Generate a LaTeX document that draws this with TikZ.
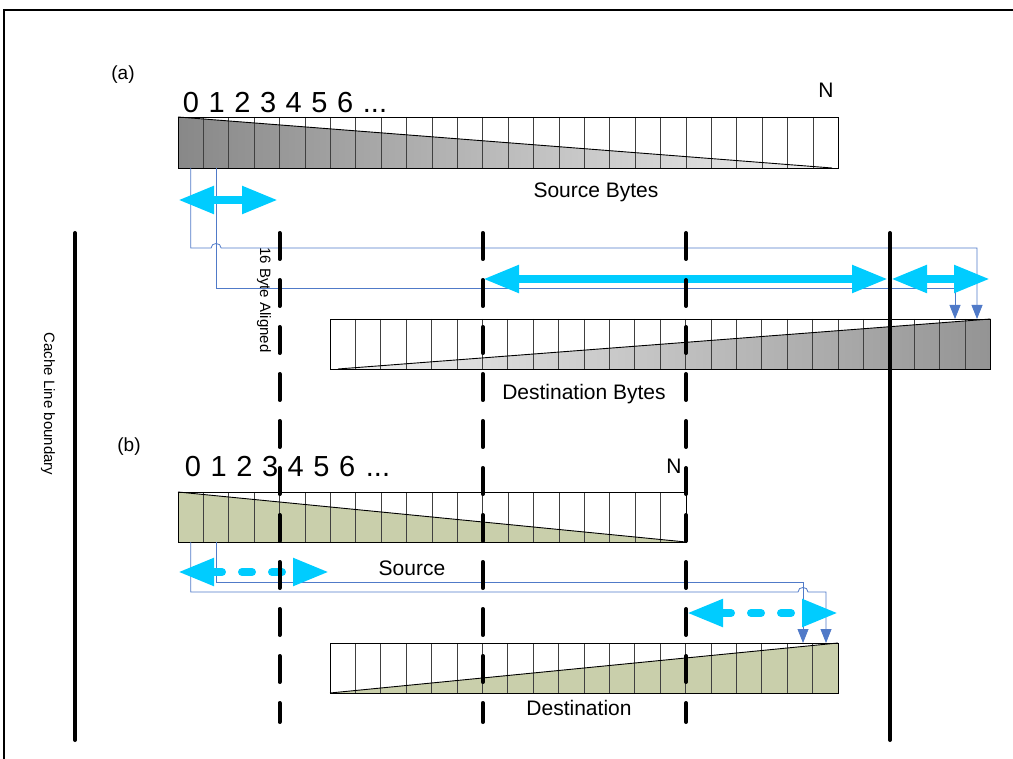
\documentclass[tikz,border=0pt]{standalone}
\usepackage{fontspec}
\setmainfont{Liberation Sans}
\usetikzlibrary{arrows.meta, positioning, calc}
\definecolor{bytedark}{RGB}{136,136,136}
\definecolor{bytelight}{RGB}{240,240,240}
\definecolor{byteolive}{RGB}{201,207,171}
\definecolor{movecyan}{RGB}{0,204,255}
\definecolor{linkblue}{RGB}{80,122,200}

\begin{document}
\begin{tikzpicture}[x=1pt, y=-1pt,
    strip/.style={draw=black, line width=0.9pt},
    cellline/.style={draw=black!75, line width=0.8pt},
    boundary/.style={line width=4pt, line cap=round},
    aligned/.style={line width=4pt, line cap=round, dash pattern=on 26pt off 21pt},
    move/.style={draw=movecyan, line width=8pt,
                 {Triangle[length=36pt,width=26pt]}-{Triangle[length=36pt,width=26pt]}},
    movedash/.style={move, line cap=round, dash pattern=on 10pt off 20pt},
    link/.style={draw=linkblue, line width=0.8pt, -{Triangle[length=14pt,width=11pt]}},
    digit/.style={anchor=base, font=\fontsize{29}{33}\selectfont},
    caption/.style={font=\fontsize{21}{25}\selectfont},
    small/.style={rotate=-90, font=\fontsize{15}{17}\selectfont}]

    \useasboundingbox (0,0) rectangle (1013,759);

    % Frame
    \draw[line width=2pt] (4,759) -- (4,10) -- (1013,10);

    % (a) source bytes
    \shade[left color=bytedark, right color=bytelight] (178,117) -- (832,168) -- (178,168) -- cycle;
    \foreach \i in {1,...,25}
        \draw[cellline] (178+\i*25.4,117) -- (178+\i*25.4,168);
    \draw[strip] (178,117) -- (832,168);
    \draw[strip] (178,117) rectangle (838.4,168);

    % (a) destination bytes
    \shade[left color=bytelight, right color=bytedark!90] (338,369) -- (990.4,319) -- (990.4,369) -- cycle;
    \foreach \i in {1,...,25}
        \draw[cellline] (330+\i*25.4,319) -- (330+\i*25.4,369);
    \draw[strip] (338,369) -- (990.4,319);
    \draw[strip] (330,319) rectangle (990.4,369);

    % (b) source
    \fill[byteolive] (178,492) -- (686,542) -- (178,542) -- cycle;
    \foreach \i in {1,...,19}
        \draw[cellline] (178+\i*25.4,492) -- (178+\i*25.4,542);
    \draw[strip] (178,492) -- (686,542);
    \draw[strip] (178,492) rectangle (686,542);

    % (b) destination
    \fill[byteolive] (330,693) -- (838,643) -- (838,693) -- cycle;
    \foreach \i in {1,...,19}
        \draw[cellline] (330+\i*25.4,643) -- (330+\i*25.4,693);
    \draw[strip] (330,693) -- (838,643);
    \draw[strip] (330,643) rectangle (838,693);

    % Byte numbers
    \foreach \d in {0,...,6} {
        \node[digit] (numA\d) at (191+\d*25.7,113) {\d};
        \node[digit] (numB\d) at (193+\d*25.7,477) {\d};
    }
    \node[digit] (numAdots) at (375,113) {...};
    \node[digit] (numBdots) at (378,477) {...};
    \node[anchor=base, font=\fontsize{21}{24}\selectfont] (lastA) at (826,98) {N};
    \node[anchor=base, font=\fontsize{21}{24}\selectfont] (lastB) at (674,474) {N};

    % Labels
    \node[font=\fontsize{19}{22}\selectfont] (tagA) at (123,75) {(a)};
    \node[font=\fontsize{19}{22}\selectfont] (tagB) at (129,447) {(b)};
    \node[caption] (srcAlbl) at (596,192) {Source Bytes};
    \node[caption] (dstAlbl) at (584,394) {Destination Bytes};
    \node[caption] (srcBlbl) at (412,568) {Source};
    \node[caption] (dstBlbl) at (579,708) {Destination};
    \node[small] (alignlbl) at (264,300) {16 Byte Aligned};
    \node[small] (cachelbl) at (48,404) {Cache Line boundary};

    % Copy links
    \coordinate (tapA0) at (190.7,168);
    \coordinate (tapA1) at (216.1,168);
    \coordinate (hitA0) at (977,319);
    \coordinate (hitA1) at (955,319);
    \coordinate (tapB0) at (190.7,542);
    \coordinate (tapB1) at (216.1,542);
    \coordinate (hitB0) at (826,643);
    \coordinate (hitB1) at (803,643);
    \draw[link] (tapA0) -- (190.7,248) -- (211.1,248)
        .. controls (211.1,242) and (221.1,242) .. (221.1,248) -- (977,248) -- (hitA0);
    \draw[link] (tapA1) -- (216.1,288) -- (955,288) -- (hitA1);
    \draw[link] (tapB1) -- (216.1,582) -- (803,582) -- (hitB1);
    \draw[link] (tapB0) -- (190.7,592) -- (798,592)
        .. controls (798,586) and (808,586) .. (808,592) -- (826,592) -- (hitB0);

    % Moves
    \coordinate (mvA0) at (178,200);
    \coordinate (mvA1) at (278,200);
    \coordinate (mvA2) at (483,279);
    \coordinate (mvA3) at (888,279);
    \coordinate (mvA4) at (891,279);
    \coordinate (mvA5) at (990,279);
    \coordinate (mvB0) at (178,572);
    \coordinate (mvB1) at (329,572);
    \coordinate (mvB2) at (687,613);
    \coordinate (mvB3) at (838,613);
    \draw[move] (mvA0) -- (mvA1);
    \draw[move] (mvA2) -- (mvA3);
    \draw[move] (mvA4) -- (mvA5);
    \draw[movedash] (mvB0) -- (mvB1);
    \draw[movedash] (mvB2) -- (mvB3);

    % Boundaries
    \draw[boundary] (75,233) -- (75,740);
    \draw[boundary] (890,233) -- (890,740);
    \foreach \x in {279.6,482.8,686}
        \draw[aligned] (\x,233) -- (\x,722);
\end{tikzpicture}
\end{document}
